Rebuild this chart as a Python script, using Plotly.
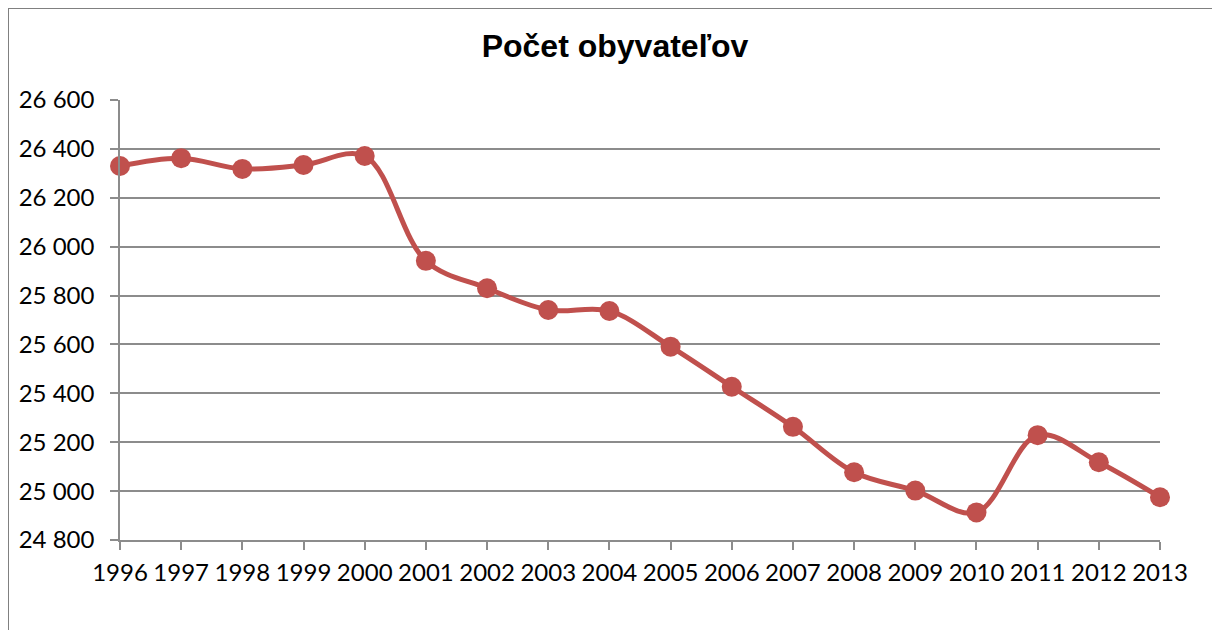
import plotly.graph_objects as go

years = list(range(1996, 2014))
population = [26330, 26362, 26318, 26334, 26371, 25942, 25830, 25741, 25737,
              25591, 25427, 25263, 25077, 25002, 24913, 25229, 25118, 24975]
y_ticks = [24800, 25000, 25200, 25400, 25600, 25800, 26000, 26200, 26400, 26600]
y_tick_labels = [f"{v:,}".replace(",", " ") for v in y_ticks]
title_text = "Počet obyvateľov"

RED = "#C0504D"
GRID = "#8C8C8C"
TICKFONT = dict(family="Lato", size=24, color="#000000")

# the page body adds an 8px offset, so layout is shifted accordingly
OFF = 8
L, T = 120 - OFF, 100 - OFF
R = 1220 - (1160 - OFF)
B = 630 - (540 - OFF)
PW = 1220 - L - R
PH = 630 - T - B

fig = go.Figure()
fig.add_trace(go.Scatter(
    x=years, y=population, mode="lines+markers",
    line=dict(color=RED, width=5, shape="spline", smoothing=1.0),
    marker=dict(color=RED, size=20, line=dict(width=0)),
    cliponaxis=False, showlegend=False,
))

fig.update_layout(
    width=1220, height=630,
    margin=dict(l=L, r=R, t=T, b=B),
    paper_bgcolor="white", plot_bgcolor="white",
    title=dict(text=f"<b>{title_text}</b>", x=(615 - OFF) / 1220, xref="container", xanchor="center",
               y=1 - (46 - OFF) / 630, yref="container", yanchor="middle",
               font=dict(family="Liberation Sans", size=32, color="#000000")),
    xaxis=dict(range=[1996, 2013], tickmode="array", tickvals=years,
               ticktext=[str(y) for y in years],
               showgrid=False, zeroline=False,
               showline=True, linecolor=GRID, linewidth=1.5,
               ticks="outside", ticklen=8, tickwidth=1.5, tickcolor=GRID,
               tickfont=TICKFONT, ticklabelstandoff=2),
    yaxis=dict(range=[24800, 26600], tickmode="array", tickvals=y_ticks,
               ticktext=y_tick_labels,
               showgrid=True, gridcolor=GRID, gridwidth=1.5, zeroline=False,
               showline=True, linecolor=GRID, linewidth=1.5,
               ticks="outside", ticklen=8, tickwidth=1.5, tickcolor=GRID,
               tickfont=TICKFONT, ticklabelstandoff=11),
    shapes=[dict(type="rect", xref="paper", yref="paper",
                 x0=(8 - 120) / PW, x1=(1240 - 120) / PW,
                 y0=(540 - 650) / PH, y1=(540 - 8) / PH,
                 line=dict(color="#808080", width=2), fillcolor="rgba(0,0,0,0)",
                 layer="below")],
)

fig.write_html("out.html")
